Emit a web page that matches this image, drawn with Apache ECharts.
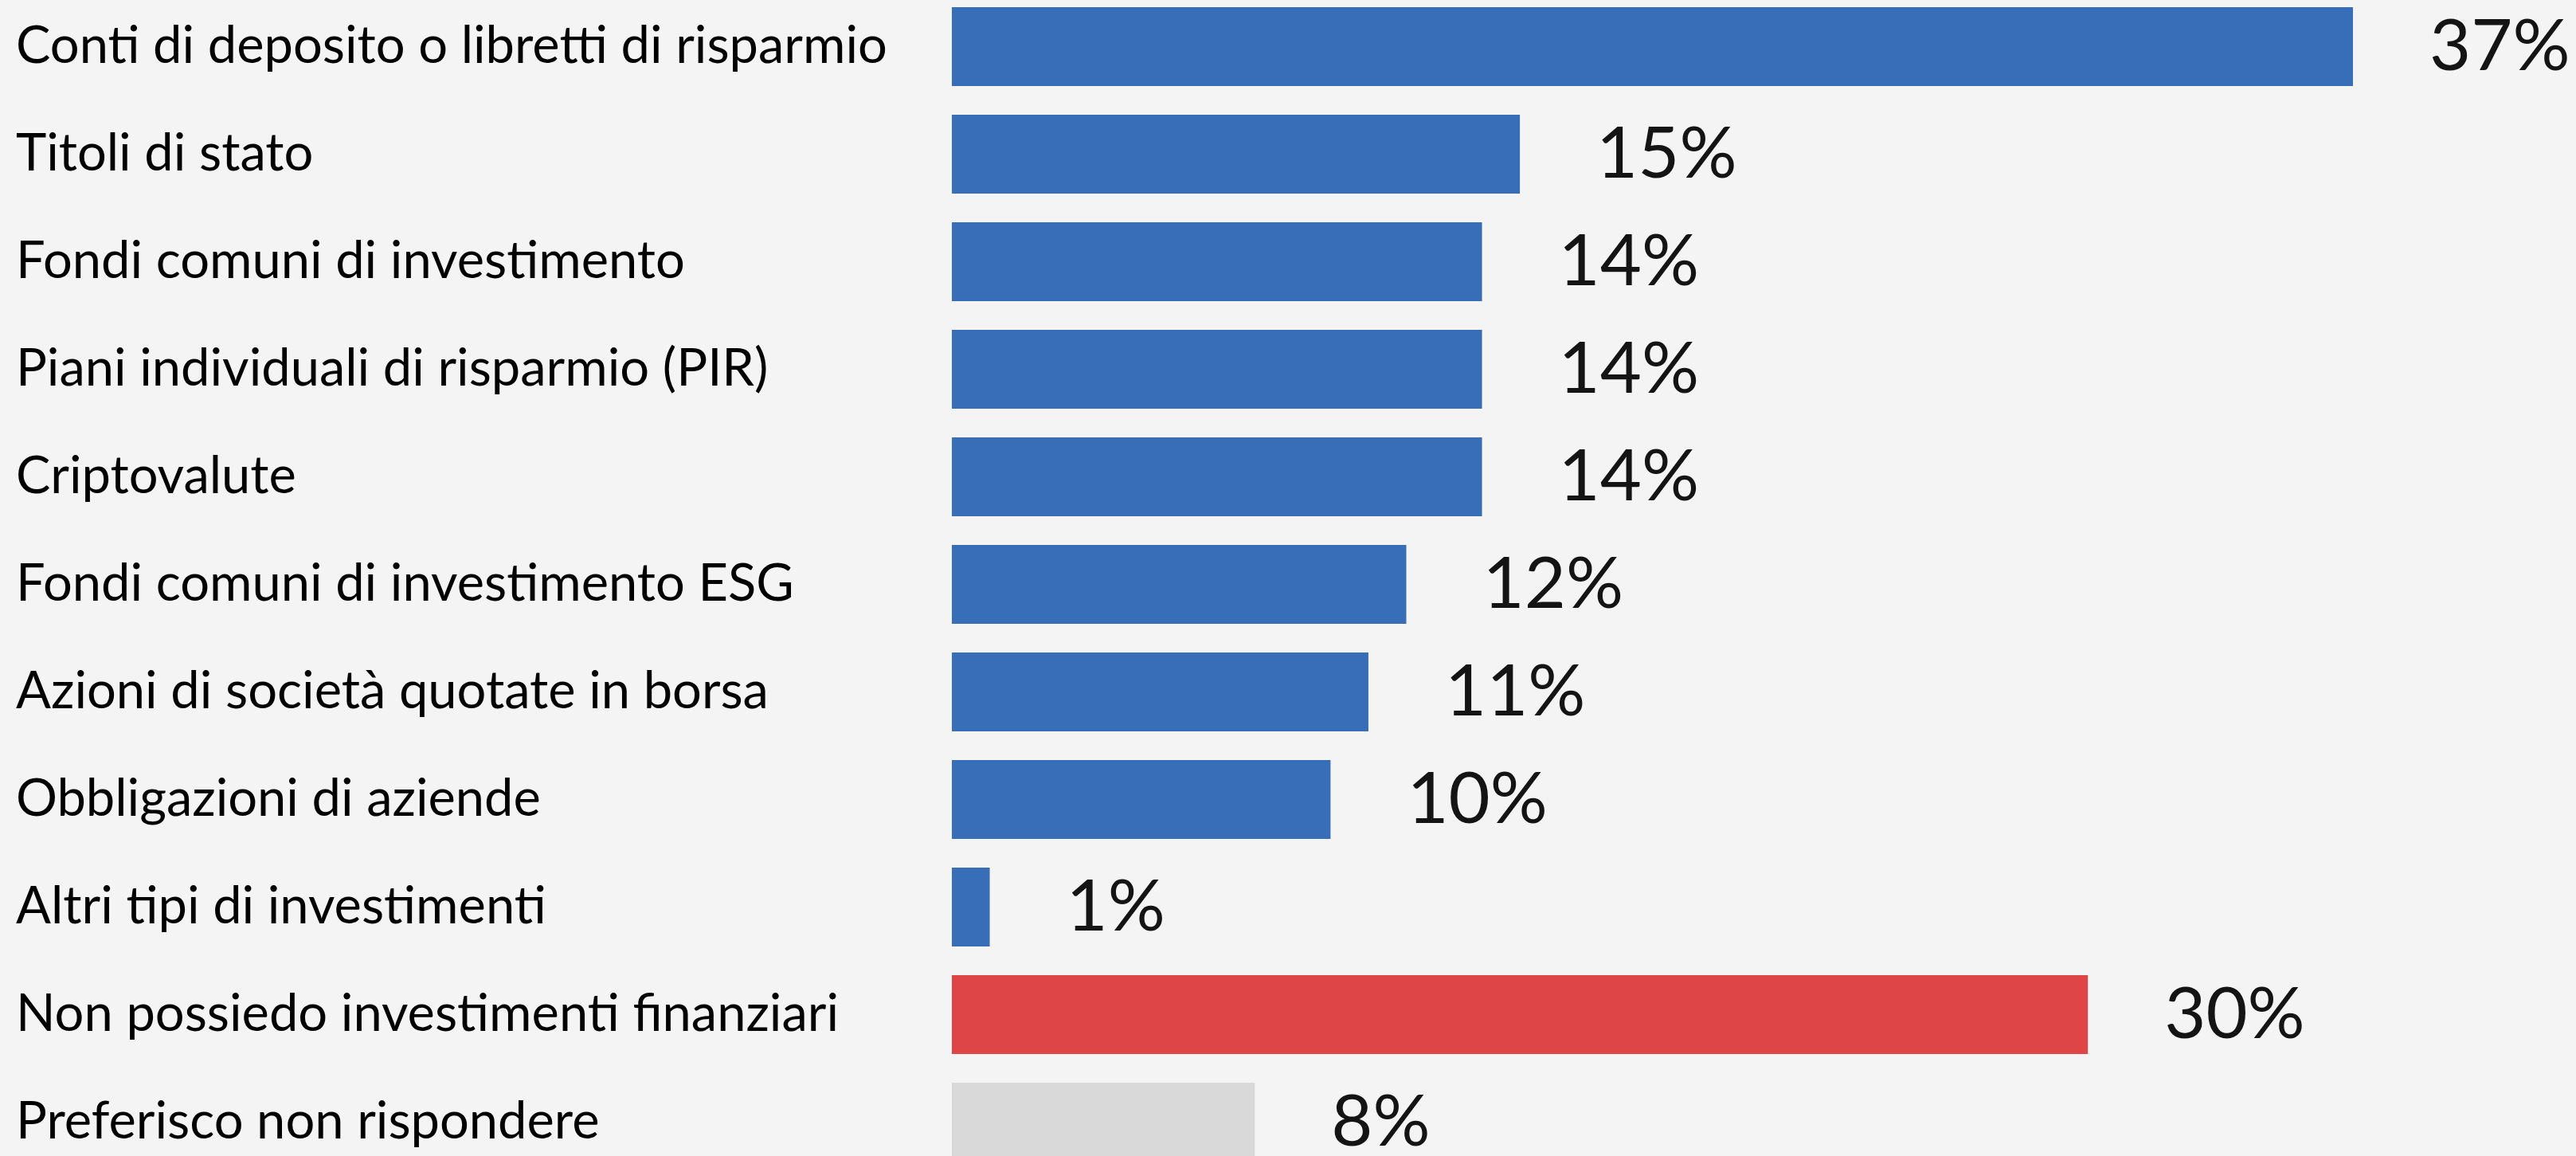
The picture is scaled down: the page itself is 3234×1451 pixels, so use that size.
<!DOCTYPE html>
<html>
<head>
<meta charset="utf-8">
<script src="https://cdn.jsdelivr.net/npm/echarts@6/dist/echarts.min.js"></script>
<style>
  html, body { margin: 0; padding: 0; background: #f4f4f4; }
  #chart { width: 3234px; height: 1451px; }
</style>
</head>
<body>
<div id="chart"></div>
<script>
const categories = [
  "Conti di deposito o libretti di risparmio",
  "Titoli di stato",
  "Fondi comuni di investimento",
  "Piani individuali di risparmio (PIR)",
  "Criptovalute",
  "Fondi comuni di investimento ESG",
  "Azioni di società quotate in borsa",
  "Obbligazioni di aziende",
  "Altri tipi di investimenti",
  "Non possiedo investimenti finanziari",
  "Preferisco non rispondere"
];
const values = [37, 15, 14, 14, 14, 12, 11, 10, 1, 30, 8];
const groups = ["inv", "inv", "inv", "inv", "inv", "inv", "inv", "inv", "inv", "none", "nr"];

const groupColors = { inv: "#386db8", none: "#dd4546", nr: "#d9d9d9" };

const chart = echarts.init(document.getElementById('chart'), null, { renderer: 'canvas' });
chart.setOption({
  backgroundColor: '#f4f4f4',
  animation: false,
  grid: { left: 1195, top: -9, width: 1901.6, height: 1485, containLabel: false, outerBoundsMode: 'none' },
  xAxis: {
    type: 'value', min: 0, max: 40,
    show: false
  },
  yAxis: {
    type: 'category',
    data: categories,
    inverse: true,
    axisLine: { show: false },
    axisTick: { show: false },
    axisLabel: {
      align: 'left',
      margin: 1175,
      fontFamily: 'Lato',
      fontSize: 65,
      color: '#000000',
      padding: [0, 0, 18, 0]
    }
  },
  series: [{
    type: 'bar',
    barCategoryGap: '26.7%',
    data: values.map((v, i) => ({ value: v, itemStyle: { color: groupColors[groups[i]] } })),
    label: {
      show: true,
      position: 'right',
      distance: 96,
      formatter: p => p.value + '%',
      fontFamily: 'Lato',
      fontSize: 90,
      color: '#141414'
    }
  }]
});
</script>
</body>
</html>
